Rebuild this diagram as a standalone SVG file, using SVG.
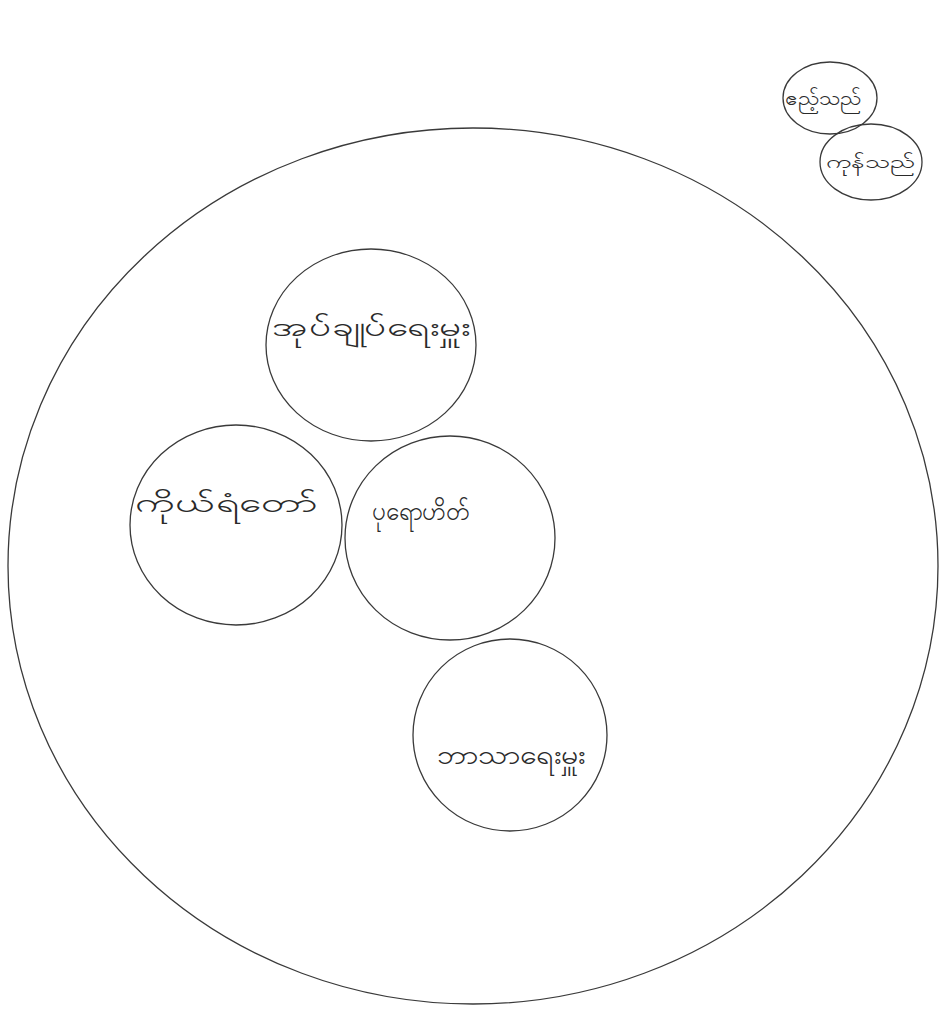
<svg xmlns="http://www.w3.org/2000/svg" width="942" height="1013" viewBox="0 0 942 1013">
<style>
.c{fill:none;stroke:#3a3a3a;stroke-width:1.3}
.t{font-family:"Noto Sans","DejaVu Sans",sans-serif;fill:#2a2a2a;text-anchor:middle}
</style>
<rect width="942" height="1013" fill="#ffffff"/>
<g id="outer">
<ellipse class="c" cx="473" cy="566" rx="465" ry="438"/>
</g>
<g id="guest">
<ellipse class="c" cx="830" cy="98" rx="47" ry="36"/>
<text class="t" x="823" y="105" font-size="19" textLength="76" lengthAdjust="spacingAndGlyphs">ဧည့်သည်</text>
</g>
<g id="merchant">
<ellipse class="c" cx="871" cy="162" rx="51" ry="38"/>
<text class="t" x="871" y="168" font-size="18" textLength="90" lengthAdjust="spacingAndGlyphs">ကုန်သည်</text>
</g>
<g id="administrator">
<ellipse class="c" cx="371" cy="345" rx="105" ry="96"/>
<text class="t" x="371" y="336" font-size="26" textLength="198" lengthAdjust="spacingAndGlyphs">အုပ်ချုပ်ရေးမှူး</text>
</g>
<g id="bodyguard">
<ellipse class="c" cx="236" cy="525" rx="106" ry="100"/>
<text class="t" x="226" y="512" font-size="26" textLength="182" lengthAdjust="spacingAndGlyphs">ကိုယ်ရံတော်</text>
</g>
<g id="purohit">
<ellipse class="c" cx="450" cy="538" rx="105" ry="102"/>
<text class="t" x="421" y="520" font-size="26" textLength="98" lengthAdjust="spacingAndGlyphs">ပုရောဟိတ်</text>
</g>
<g id="religious">
<ellipse class="c" cx="510" cy="735" rx="97" ry="96"/>
<text class="t" x="511" y="764" font-size="26" textLength="148" lengthAdjust="spacingAndGlyphs">ဘာသာရေးမှူး</text>
</g>
<g id="connectors"></g>
</svg>
